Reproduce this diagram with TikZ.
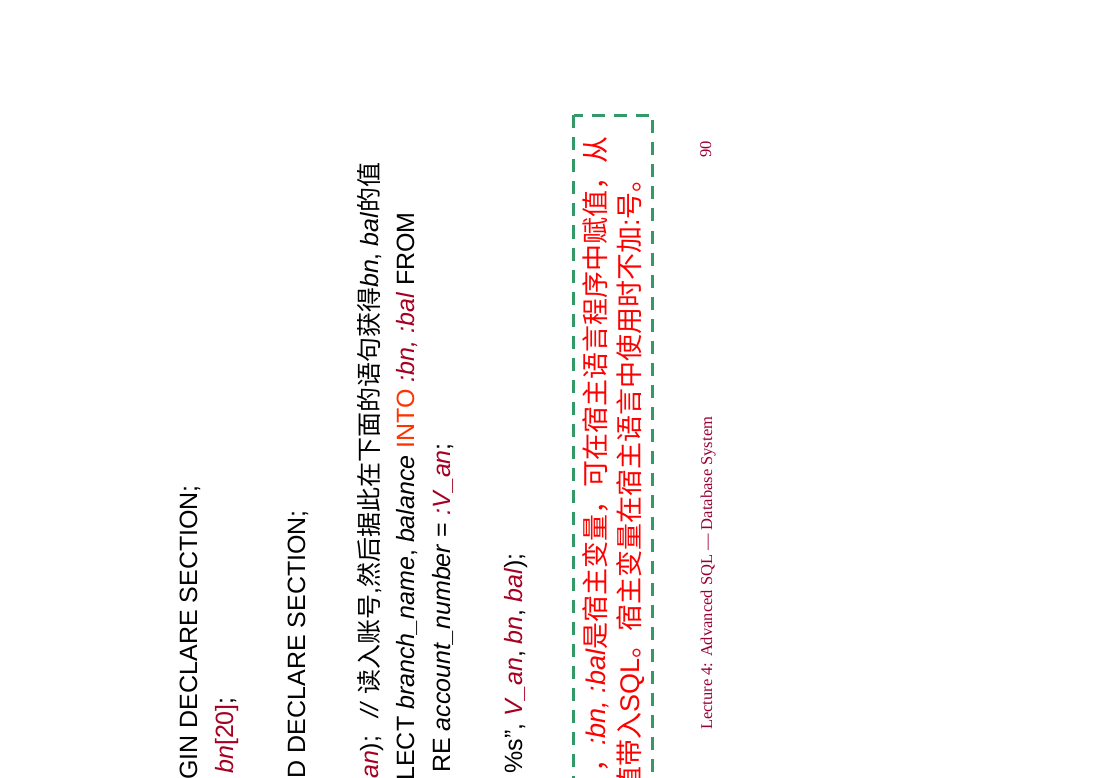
\documentclass[tikz,border=0pt]{standalone}
\usepackage{fontspec}
\setmainfont{Liberation Sans}
\newfontfamily\cjk{Noto Sans CJK SC}
\newfontfamily\footfont{Liberation Serif}
\definecolor{vardark}{RGB}{165,0,33}
\definecolor{intored}{RGB}{255,51,0}
\definecolor{notered}{RGB}{255,0,0}
\definecolor{boxgreen}{RGB}{51,153,102}
\definecolor{footred}{RGB}{153,0,51}
\newcommand{\hv}[1]{\textcolor{vardark}{\textit{#1}}}
\newcommand{\codesize}{\fontsize{25}{30}\selectfont}
\newcommand{\notesize}{\fontsize{27}{33}\selectfont}

\begin{document}
\begin{tikzpicture}[x=1pt,y=-1pt]
    \tikzset{
        codeline/.style={rotate=90, anchor=base east, inner sep=0pt, font=\codesize},
        noteline/.style={rotate=90, anchor=base east, inner sep=0pt, font=\notesize, text=notered},
        footline/.style={rotate=90, anchor=base west, inner sep=0pt, font=\footfont\fontsize{16.5}{20}\selectfont, text=footred},
        notebox/.style={draw=boxgreen, line width=3pt, dash pattern=on 13pt off 9pt}
    }
    \useasboundingbox (0,0) rectangle (1100,778);
    \clip (0,0) rectangle (1100,778);

    % code lines
    \node[codeline] (gin) at (197,485) {GIN DECLARE SECTION;};
    \node[codeline] (bnline) at (233,697) {\hv{bn}\textcolor{vardark}{[20]};};
    \node[codeline] (endsec) at (305,510) {D DECLARE SECTION;};
    \node[codeline] (readline) at (378,162)
        {\hv{an});\hspace{18pt}\textit{//} {\cjk 读入账号},{\cjk 然后据此在下面的语句获得}\textit{bn}, \textit{bal}{\cjk 的值}};
    \node[codeline] (selectline) at (414,212)
        {LECT \textit{branch\_name}, \textit{balance} \textcolor{intored}{INTO} \hv{:bn, :bal} FROM};
    \node[codeline] (whereline) at (450,443) {RE \textit{account\_number} = \hv{:V\_an};};
    \node[codeline] (printline) at (522,553) {\%s”, \hv{V\_an}, \hv{bn}, \hv{bal});};

    % note in the dashed box
    \draw[notebox] (573.5,115.5) rectangle (652.5,800);
    \node[noteline] (note1) at (605,136)
        {{\cjk ，}\textit{:bn, :bal}{\cjk 是宿主变量，可在宿主语言程序中赋值，从}};
    \node[noteline] (note2) at (639,165)
        {{\cjk 值带入}SQL{\cjk 。宿主变量在宿主语言中使用时不加}:{\cjk 号。}};

    % footer
    \node[footline] (footer) at (712,730) {Lecture 4: Advanced SQL — Database System};
    \node[footline] (pageno) at (711,158) {90};
\end{tikzpicture}
\end{document}
